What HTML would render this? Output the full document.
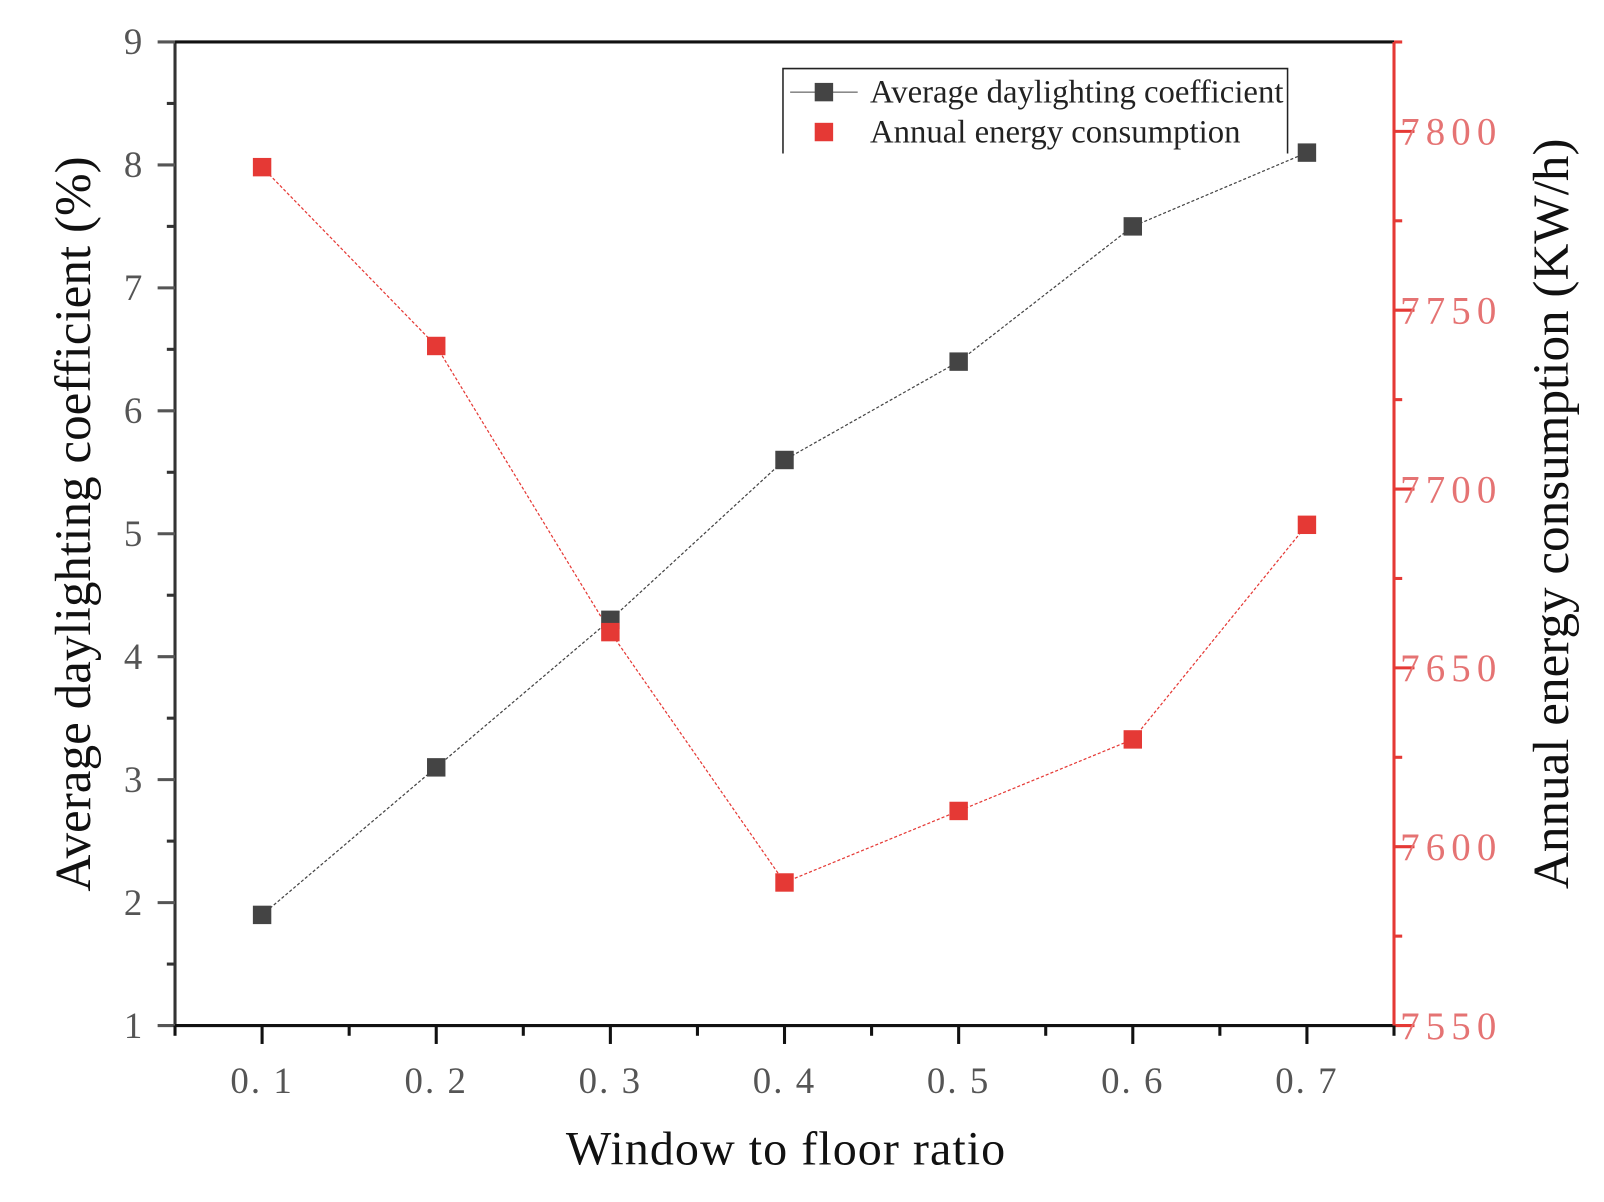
<!DOCTYPE html>
<html><head><meta charset="utf-8"><style>
body{margin:0;background:#fff}
svg text{font-family:"Liberation Serif",serif}
</style></head><body>
<svg id="chart" width="1604" height="1197" viewBox="0 0 1604 1197" xmlns="http://www.w3.org/2000/svg">
<g id="g" transform="scale(1.0235)"></g>
</svg>
<script>
const categories=[0.1,0.2,0.3,0.4,0.5,0.6,0.7];
const daylight=[1.9,3.1,4.3,5.6,6.4,7.5,8.1];
const energy=[7790,7740,7660,7590,7610,7630,7690];
const leftTicks=[1,2,3,4,5,6,7,8,9];
const rightTicks=[7550,7600,7650,7700,7750,7800];
const xLabels=["0. 1","0. 2","0. 3","0. 4","0. 5","0. 6","0. 7"];

const L=171,R=1362,T=41,B=1002;
const xs=v=>L+(v-0.05)/0.7*(R-L);
const yl=v=>B-(v-1)/8*(B-T);
const yr=v=>B-(v-7550)/(7825-7550)*(B-T);
const g=document.getElementById('g');
const NS='http://www.w3.org/2000/svg';
function mk(tag,a,txt){const e=document.createElementNS(NS,tag);for(const k in a)e.setAttribute(k,a[k]);if(txt!==undefined)e.textContent=txt;g.appendChild(e);return e;}

let e;
e=mk('line',{x1:L,y1:T,x2:L,y2:B,stroke:'#333','stroke-width':3});

e=mk('line',{x1:L,y1:T,x2:R,y2:T,stroke:'#111','stroke-width':3});

e=mk('line',{x1:L,y1:B,x2:R,y2:B,stroke:'#111','stroke-width':3});

e=mk('line',{x1:R,y1:T,x2:R,y2:B,stroke:'#e53935','stroke-width':3});


leftTicks.forEach(v=>{
  mk('line',{x1:L-17,y1:yl(v),x2:L,y2:yl(v),stroke:'#555','stroke-width':3});
  if(v<9)mk('line',{x1:L-8,y1:yl(v+0.5),x2:L,y2:yl(v+0.5),stroke:'#333','stroke-width':3});
  e=mk('text',{x:L-32,y:yl(v)+12,'font-size':36,fill:'#555','text-anchor':'end'},String(v));
  
});
rightTicks.forEach(v=>{
  mk('line',{x1:R,y1:yr(v),x2:R+20,y2:yr(v),stroke:'#e53935','stroke-width':3});
  mk('line',{x1:R,y1:yr(v+25),x2:R+8,y2:yr(v+25),stroke:'#e53935','stroke-width':3});
  e=mk('text',{x:R+6,y:yr(v)+13,'font-size':38,fill:'#e57373','letter-spacing':6},String(v));
  
});
for(let i=0;i<=14;i++){const v=0.05+i*0.05;const big=i%2==1;
  mk('line',{x1:xs(v),y1:B,x2:xs(v),y2:B+(big?18:10),stroke:'#111','stroke-width':3});}
categories.forEach((c,i)=>{
  e=mk('text',{x:xs(c),y:B+66,'font-size':36,fill:'#555','text-anchor':'middle','letter-spacing':2},xLabels[i]);
  
});
e=mk('text',{x:768,y:1138,'font-size':47,fill:'#111','text-anchor':'middle','letter-spacing':1},'Window to floor ratio');

e=mk('text',{x:0,y:0,'font-size':50,fill:'#111','text-anchor':'middle',transform:'translate(88,512) rotate(-90)'},'Average daylighting coefficient (%)');

e=mk('text',{x:0,y:0,'font-size':50,fill:'#111','text-anchor':'middle',transform:'translate(1532,502) rotate(-90)'},'Annual energy consumption (KW/h)');


e=mk('polyline',{points:categories.map((c,i)=>xs(c)+','+yl(daylight[i])).join(' '),fill:'none',stroke:'#444','stroke-width':1.2,'stroke-dasharray':'3 2'});

e=mk('polyline',{points:categories.map((c,i)=>xs(c)+','+yr(energy[i])).join(' '),fill:'none',stroke:'#e53935','stroke-width':1.2,'stroke-dasharray':'3 2'});

categories.forEach((c,i)=>{
  e=mk('rect',{x:xs(c)-9,y:yl(daylight[i])-9,width:18,height:18,fill:'#444'});
  
  e=mk('rect',{x:xs(c)-9,y:yr(energy[i])-9,width:18,height:18,fill:'#e53935'});
  
});

e=mk('path',{d:'M765,150 L765,67 L1258,67 L1258,150',fill:'none',stroke:'#222','stroke-width':1.5});

mk('line',{x1:772,y1:90,x2:838,y2:90,stroke:'#444','stroke-width':1});
mk('rect',{x:796,y:81,width:18,height:18,fill:'#444'});
e=mk('text',{x:850,y:100,'font-size':32,fill:'#222'},'Average daylighting coefficient');

mk('rect',{x:796,y:120,width:18,height:18,fill:'#e53935'});
e=mk('text',{x:850,y:139,'font-size':32,fill:'#222'},'Annual energy consumption');

</script>
</body></html>
